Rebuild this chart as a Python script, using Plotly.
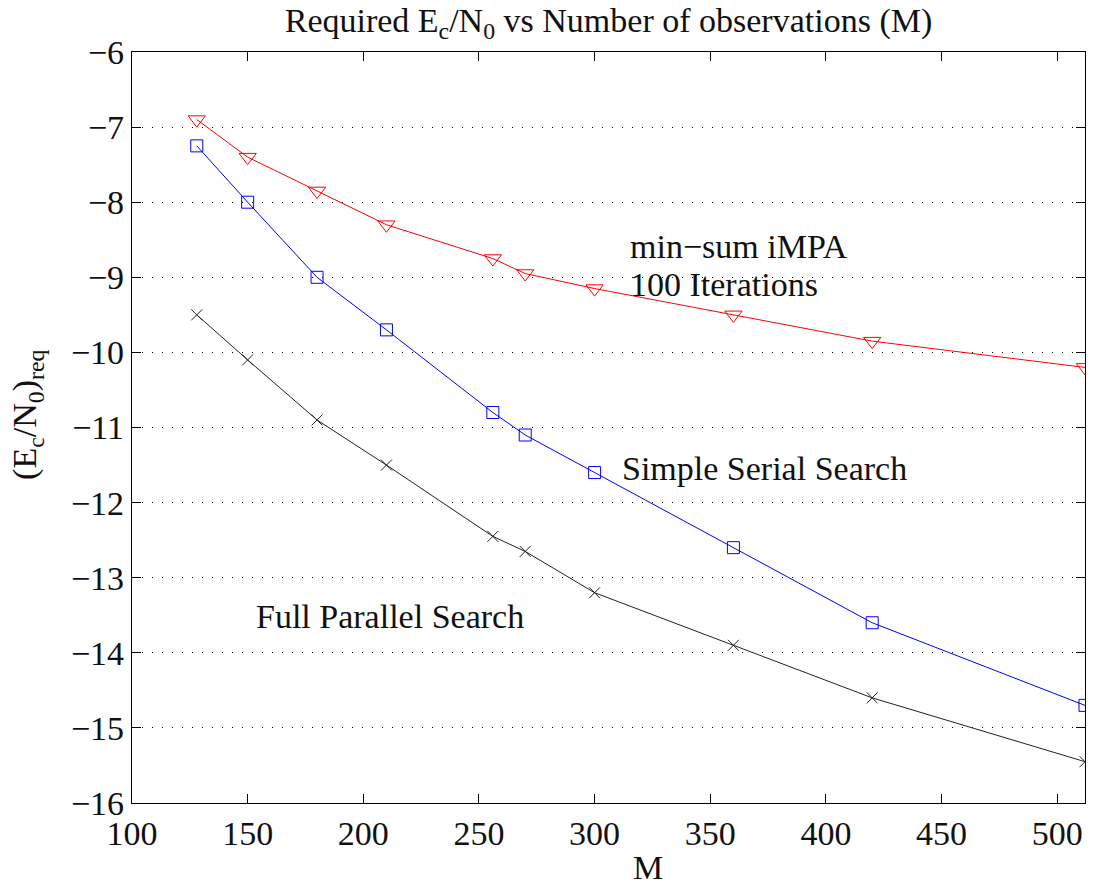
import plotly.graph_objects as go

# Number of observations M
m_values = [128, 150, 180, 210, 256, 270, 300, 360, 420, 512]

# Required Ec/N0 (dB) for each detector
min_sum_impa = [-6.9, -7.4, -7.85, -8.3, -8.75, -8.95, -9.15, -9.5, -9.85, -10.2]
simple_serial = [-7.25, -8.0, -9.0, -9.7, -10.8, -11.1, -11.6, -12.6, -13.6, -14.7]
full_parallel = [-9.5, -10.1, -10.9, -11.5, -12.45, -12.65, -13.2, -13.9, -14.6, -15.45]

x_ticks = [100, 150, 200, 250, 300, 350, 400, 450, 500]
y_ticks = [-16, -15, -14, -13, -12, -11, -10, -9, -8, -7, -6]

FONT = "Liberation Serif"
FS = 34

fig = go.Figure()

fig.add_trace(go.Scatter(
    x=m_values, y=min_sum_impa, mode="lines+markers",
    line=dict(color="#ff0000", width=1),
    marker=dict(symbol="triangle-down-open", size=15, color="#ff0000",
                line=dict(color="#ff0000", width=1)),
    showlegend=False,
))
fig.add_trace(go.Scatter(
    x=m_values, y=simple_serial, mode="lines+markers",
    line=dict(color="#0000ff", width=1),
    marker=dict(symbol="square-open", size=12, color="#0000ff",
                line=dict(color="#0000ff", width=1)),
    showlegend=False,
))
fig.add_trace(go.Scatter(
    x=m_values, y=full_parallel, mode="lines+markers",
    line=dict(color="#222222", width=1),
    marker=dict(symbol="x-thin-open", size=11, color="#222222",
                line=dict(color="#222222", width=1)),
    showlegend=False,
))

text_font = dict(family=FONT, size=FS, color="#111111")

annotations = [
    dict(text="min\u2212sum iMPA", x=314.5, y=-8.59, xref="x", yref="y",
         xanchor="left", yanchor="middle", showarrow=False, font=text_font),
    dict(text="100 Iterations", x=314.5, y=-9.1, xref="x", yref="y",
         xanchor="left", yanchor="middle", showarrow=False, font=text_font),
    dict(text="Simple Serial Search", x=311, y=-11.54, xref="x", yref="y",
         xanchor="left", yanchor="middle", showarrow=False, font=text_font),
    dict(text="Full Parallel Search", x=152.8, y=-13.52, xref="x", yref="y",
         xanchor="left", yanchor="middle", showarrow=False, font=text_font),
    # x-axis label
    dict(text="M", x=0.541, y=-0.086, xref="paper", yref="paper",
         xanchor="center", yanchor="middle", showarrow=False, font=text_font),
    # y-axis label
    dict(text="(E<sub>c</sub>/N<sub>0</sub>)<sub>req</sub>", x=-0.11, y=0.517,
         xref="paper", yref="paper", xanchor="center", yanchor="middle",
         textangle=-90, showarrow=False, font=text_font),
]

fig.update_layout(
    width=1095, height=886,
    margin=dict(l=132, r=10, t=52, b=83),
    paper_bgcolor="white", plot_bgcolor="white",
    font=dict(family=FONT, size=FS, color="#111111"),
    title=dict(
        text="Required E<sub>c</sub>/N<sub>0</sub> vs Number of observations (M)",
        x=0.5, xref="paper", xanchor="center",
        y=0.977, yref="container", yanchor="middle",
        font=dict(family=FONT, size=FS, color="#111111"),
    ),
    annotations=annotations,
)

fig.update_xaxes(
    range=[100, 512], tickvals=x_ticks, ticktext=[str(v) for v in x_ticks],
    showgrid=False, zeroline=False,
    showline=True, linecolor="black", linewidth=1.2, mirror="ticks",
    ticks="inside", ticklen=9, tickcolor="black", tickwidth=1,
    tickfont=dict(family=FONT, size=FS, color="#111111"),
)
fig.update_yaxes(
    range=[-16, -6], tickvals=y_ticks,
    showgrid=True, gridcolor="black", gridwidth=1, griddash="1px,9px",
    zeroline=False,
    showline=True, linecolor="black", linewidth=1.2, mirror="ticks",
    ticks="inside", ticklen=9, tickcolor="black", tickwidth=1,
    tickfont=dict(family=FONT, size=FS, color="#111111"),
)

fig.write_html("out.html")
